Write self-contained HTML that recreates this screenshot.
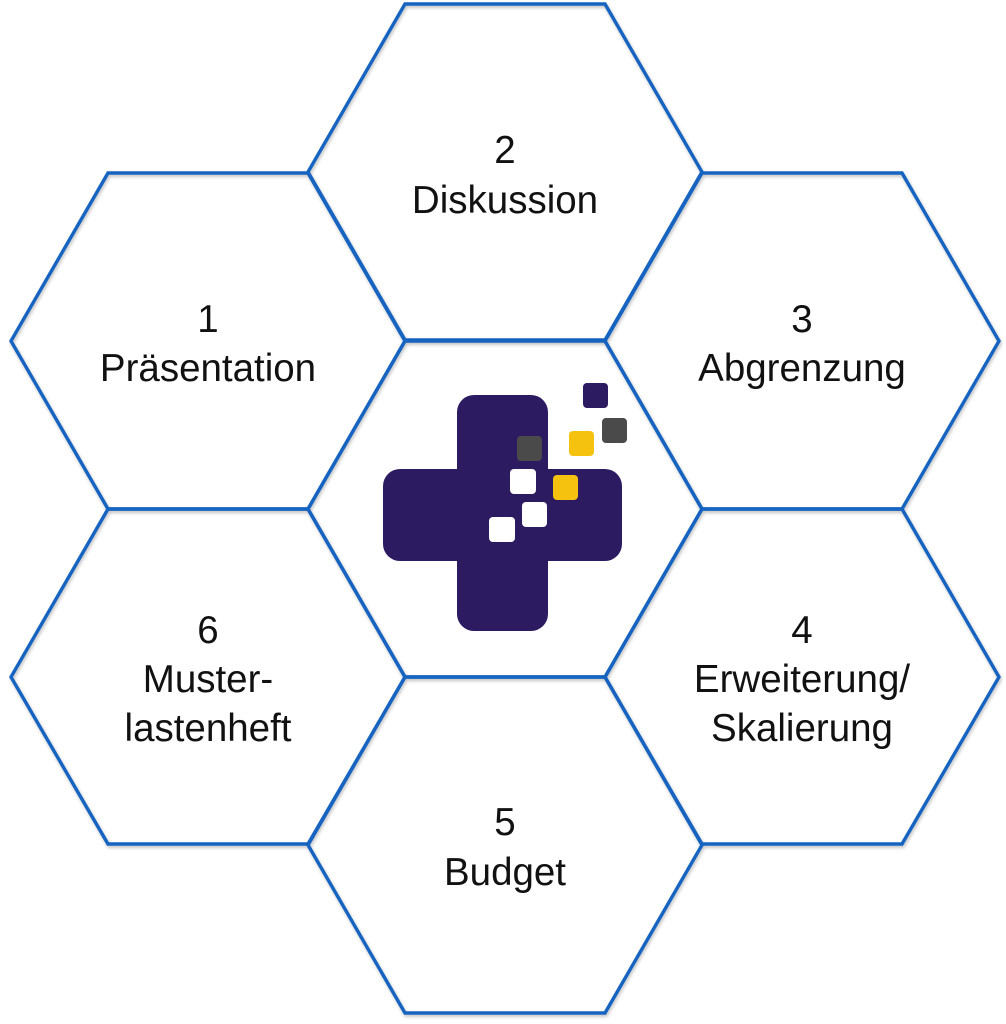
<!DOCTYPE html>
<html>
<head>
<meta charset="utf-8">
<style>
  html, body { margin:0; padding:0; background:#ffffff; }
  body { width:1006px; height:1024px; overflow:hidden; }
  svg { display:block; }
  text { font-family:"Liberation Sans", Arial, sans-serif; font-size:38.5px; fill:#111111; text-anchor:middle; }
</style>
</head>
<body>
<svg width="1006" height="1024" viewBox="0 0 1006 1024" xmlns="http://www.w3.org/2000/svg">
  <defs>
    <filter id="sh" x="-5%" y="-5%" width="110%" height="110%">
      <feDropShadow dx="1" dy="2" stdDeviation="1.5" flood-color="#000" flood-opacity="0.25"/>
    </filter>
  </defs>
  <rect width="1006" height="1024" fill="#ffffff"/>

  <g fill="none" stroke="#1463c0" stroke-width="3.4" stroke-linejoin="miter" filter="url(#sh)">
    <!-- Hex 2 (505,172) -->
    <polygon points="405,4 605,4 702,172 605,340 405,340 308,172"/>
    <!-- Hex 1 (208,341) -->
    <polygon points="108,173 308,173 405,341 308,509 108,509 11,341"/>
    <!-- Hex 3 (802,341) -->
    <polygon points="702,173 902,173 999,341 902,509 702,509 605,341"/>
    <!-- Center (505,509) -->
    <polygon points="405,341 605,341 702,509 605,677 405,677 308,509"/>
    <!-- Hex 6 (208,677) -->
    <polygon points="108,509 308,509 405,677 308,844 108,844 11,677"/>
    <!-- Hex 4 (802,677) -->
    <polygon points="702,509 902,509 999,677 902,844 702,844 605,677"/>
    <!-- Hex 5 (505,845) -->
    <polygon points="405,677 605,677 702,845 605,1013 405,1013 308,845"/>
  </g>

  <!-- Labels -->
  <text x="505" y="163">2</text>
  <text x="505" y="213">Diskussion</text>

  <text x="208" y="332">1</text>
  <text x="208" y="381">Präsentation</text>

  <text x="802" y="332">3</text>
  <text x="802" y="381">Abgrenzung</text>

  <text x="208" y="643">6</text>
  <text x="208" y="692">Muster-</text>
  <text x="208" y="741">lastenheft</text>

  <text x="802" y="643">4</text>
  <text x="802" y="692">Erweiterung/</text>
  <text x="802" y="741">Skalierung</text>

  <text x="505" y="835">5</text>
  <text x="505" y="885">Budget</text>

  <!-- Logo -->
  <g fill="#2d1b62">
    <rect x="457" y="395" width="91" height="236" rx="17" ry="17"/>
    <rect x="383" y="469" width="239" height="92" rx="17" ry="17"/>
  </g>
  <!-- small squares -->
  <rect x="583" y="383" width="25" height="25" rx="4" fill="#2d1b62"/>
  <rect x="602" y="418" width="25" height="25" rx="4" fill="#4a4a4a"/>
  <rect x="569" y="431" width="25" height="25" rx="4" fill="#f5c30f"/>
  <rect x="517" y="436" width="25" height="25" rx="4" fill="#4a4a4a"/>
  <rect x="510" y="469" width="26" height="25" rx="4" fill="#ffffff"/>
  <rect x="553" y="475" width="25" height="25" rx="4" fill="#f5c30f"/>
  <rect x="522" y="502" width="25" height="25" rx="4" fill="#ffffff"/>
  <rect x="489" y="517" width="26" height="25" rx="4" fill="#ffffff"/>
</svg>
</body>
</html>
